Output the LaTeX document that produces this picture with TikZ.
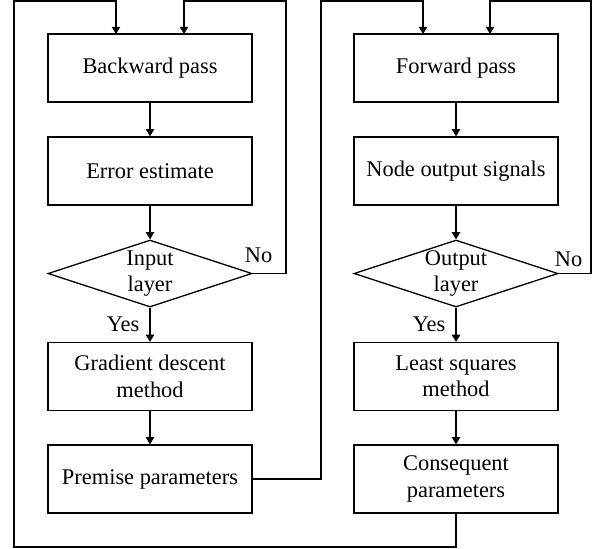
\documentclass[tikz,border=0pt]{standalone}
\usepackage{fontspec}
\setmainfont{Liberation Serif}
\usetikzlibrary{arrows.meta, positioning, shapes.geometric}

\tikzset{
  stepbox/.style={draw, line width=0.65pt, minimum width=102pt, minimum height=34pt,
    inner sep=2pt, align=center, font=\fontsize{11.2}{13.2}\selectfont},
  testbox/.style={draw, diamond, line width=0.65pt, minimum width=102pt, minimum height=33.5pt,
    inner sep=0pt},
  flow/.style={line width=0.65pt, -{Triangle[length=3.6pt, width=4.2pt]}},
  tag/.style={font=\fontsize{11.2}{13.2}\selectfont, inner sep=0pt}
}

\begin{document}
\begin{tikzpicture}[x=0.5pt, y=-0.5pt]
  \useasboundingbox (0,0) rectangle (597,548);

  % backward column
  \node[stepbox] (bwd)  at (150,68)    {Backward pass};
  \node[stepbox] (err)  at (150,171)   {Error estimate};
  \node[testbox, label={[tag, align=center]center:Input\\layer}] (inl) at (150,273.5) {};
  \node[stepbox] (grad) at (150,376.5) {Gradient descent\\method};
  \node[stepbox] (prem) at (150,479)   {Premise parameters};

  % forward column
  \node[stepbox] (fwd)  at (456,68)    {Forward pass};
  \node[stepbox] (nos)  at (456,171)   {Node output signals};
  \node[testbox, label={[tag, align=center]center:Output\\layer}] (outl) at (456,273.5) {};
  \node[stepbox] (lsq)  at (456,376.5) {Least squares\\method};
  \node[stepbox] (cons) at (456,479)   {Consequent\\parameters};

  \coordinate (bwdA) at (116,34);
  \coordinate (bwdB) at (184,34);
  \coordinate (fwdA) at (423,34);
  \coordinate (fwdB) at (490,34);

  \draw[flow] (bwd) -- (err);
  \draw[flow] (err) -- (inl);
  \draw[flow] (inl) -- node[tag, pos=0.5, left=5pt] {Yes} (grad);
  \draw[flow] (grad) -- (prem);

  \draw[flow] (fwd) -- (nos);
  \draw[flow] (nos) -- (outl);
  \draw[flow] (outl) -- node[tag, pos=0.5, left=5pt] {Yes} (lsq);
  \draw[flow] (lsq) -- (cons);

  % loops back to the top
  \draw[flow] (inl.east) -- (286,273.5) node[tag, anchor=south east, xshift=-6.5pt, yshift=5pt] {No}
    -- (286,1) -- (bwdB |- 0,1) -- (bwdB);
  \draw[flow] (outl.east) -- (591,273.5) node[tag, anchor=south east, xshift=-4pt, yshift=3pt] {No}
    -- (591,1) -- (fwdB |- 0,1) -- (fwdB);
  \draw[flow] (prem.east) -- (321,479) -- (321,1) -- (fwdA |- 0,1) -- (fwdA);
  \draw[flow] (cons.south) -- (cons.south |- 0,547) -- (14,547) -- (14,1)
    -- (bwdA |- 0,1) -- (bwdA);
\end{tikzpicture}
\end{document}
